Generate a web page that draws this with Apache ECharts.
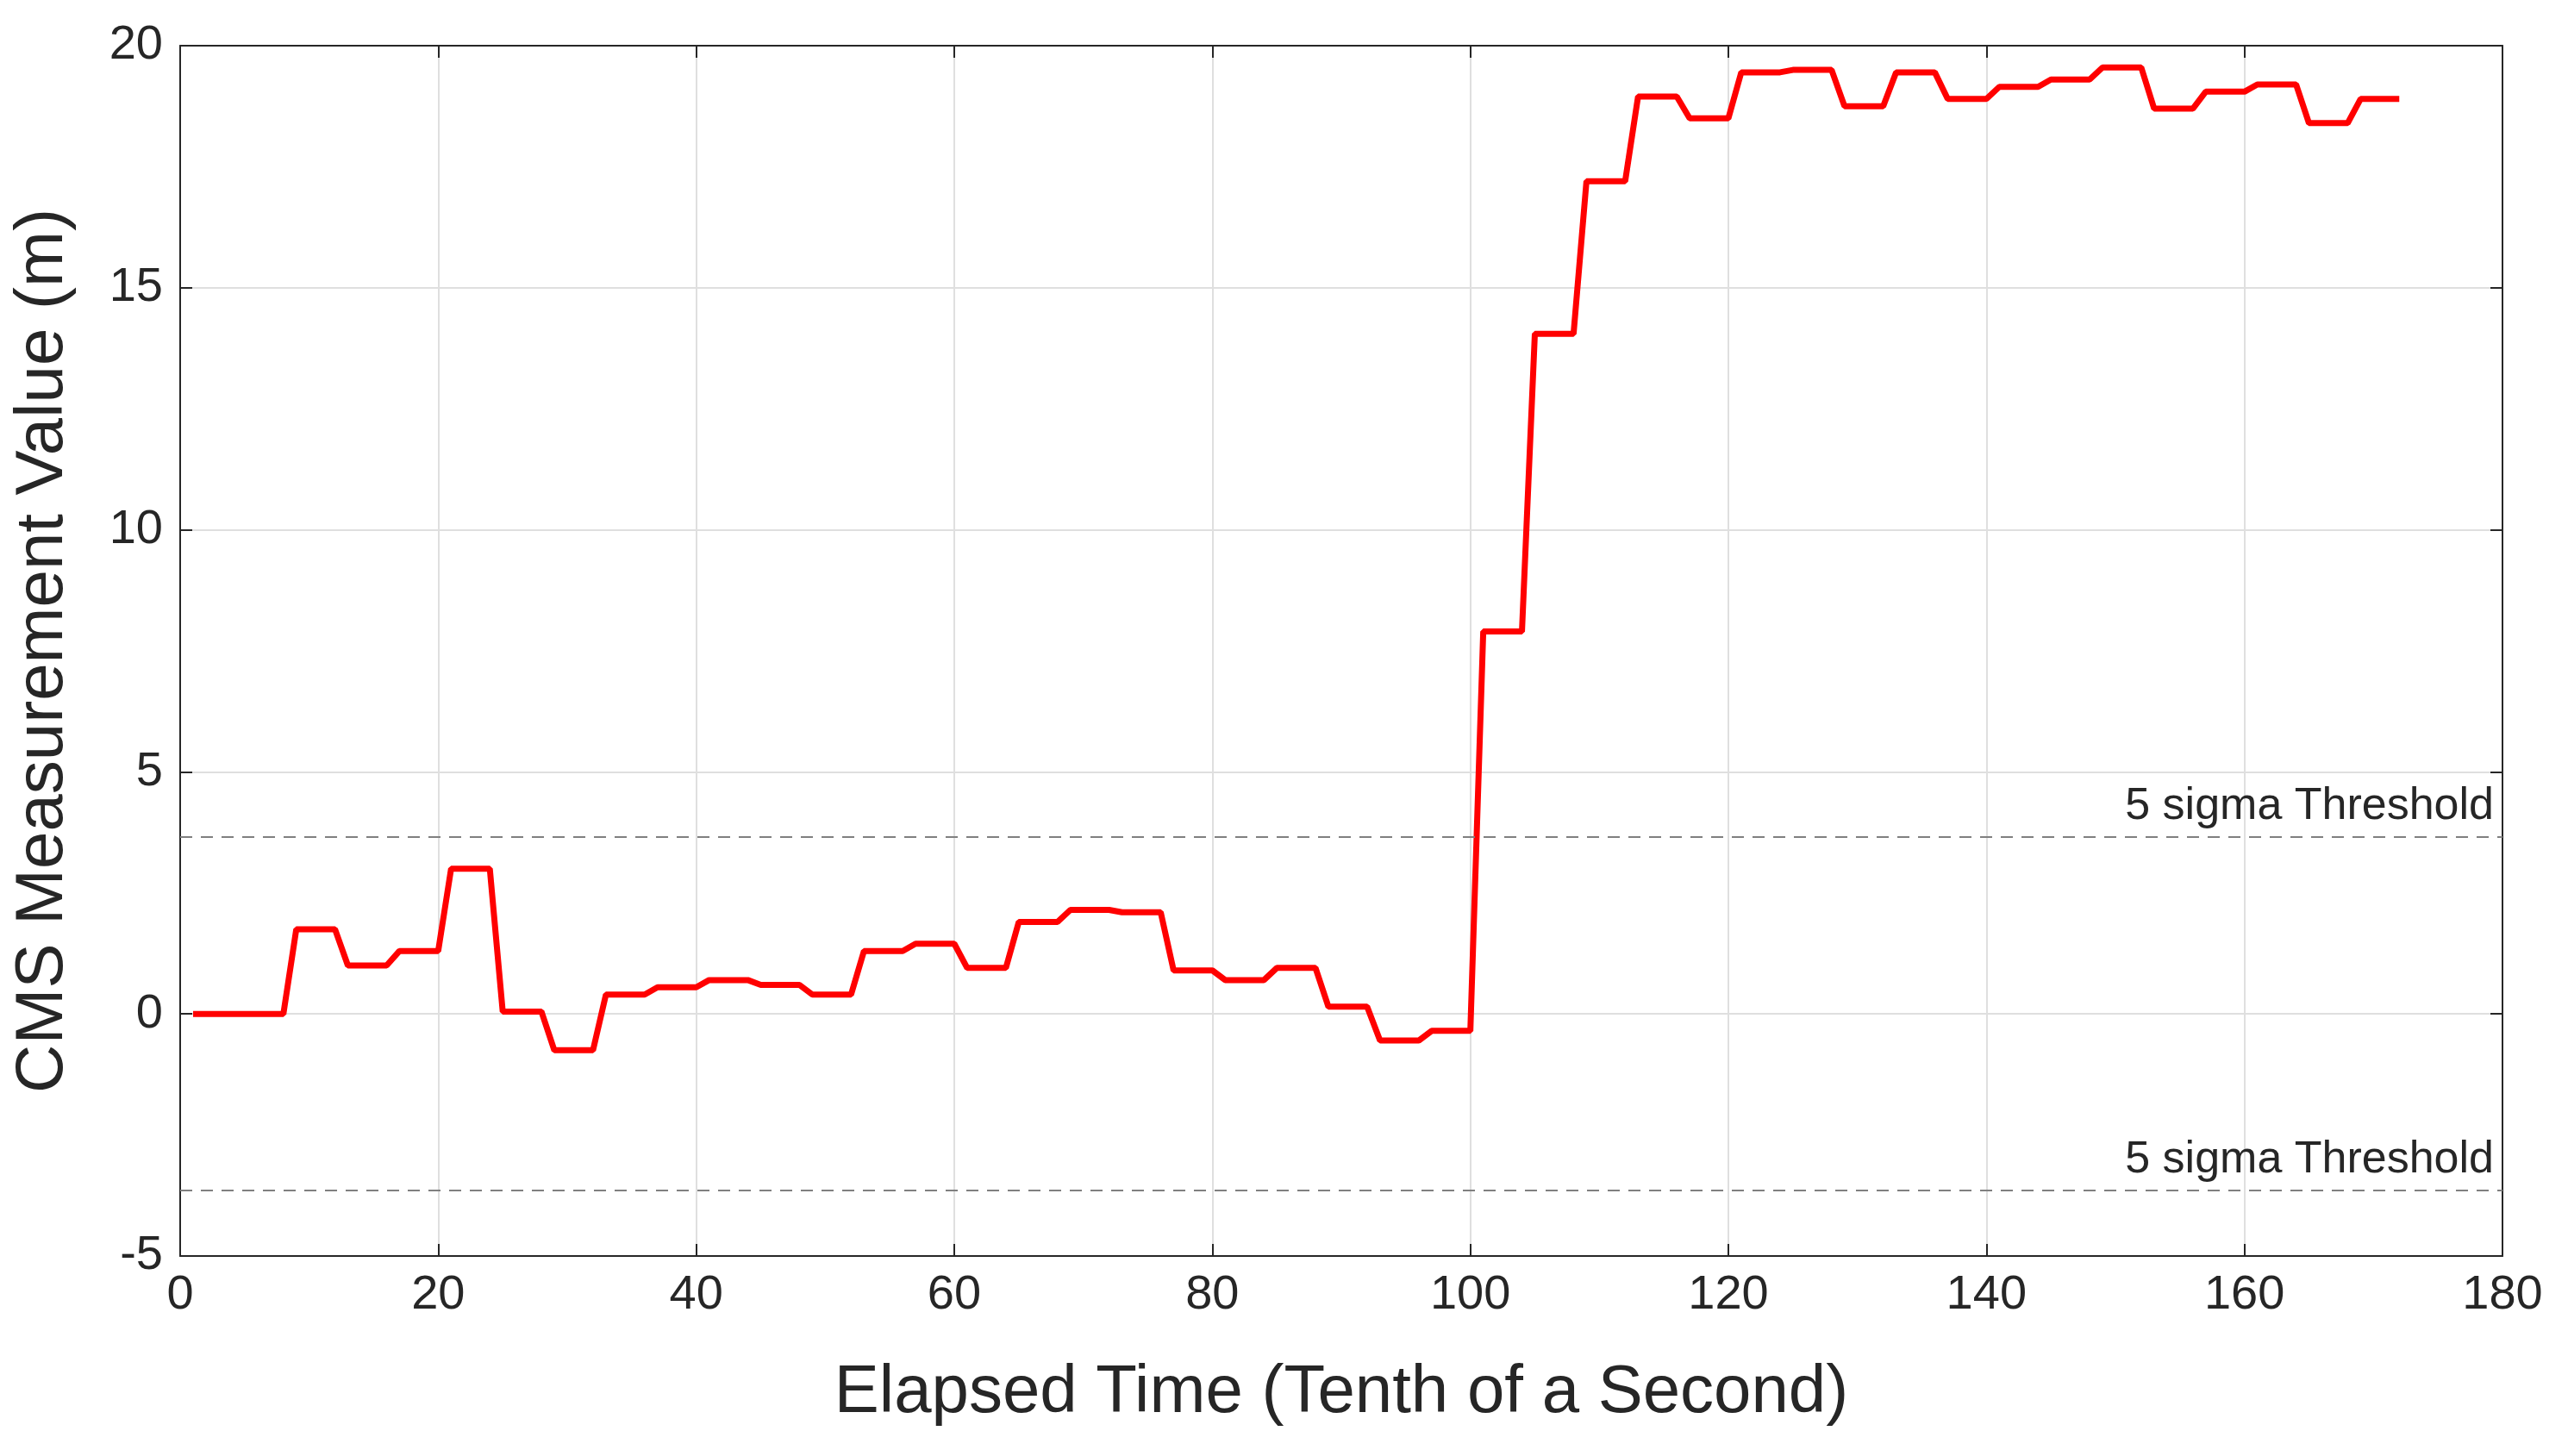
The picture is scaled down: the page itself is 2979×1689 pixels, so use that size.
<!DOCTYPE html>
<html><head><meta charset="utf-8">
<script src="https://cdn.jsdelivr.net/npm/echarts@6/dist/echarts.min.js"></script>
<style>html,body{margin:0;background:#fff}#c{width:2979px;height:1689px}</style>
</head><body><div id="c"></div>
<script>
const stepStarts = [1,9,13,17,21,25,29,33,37,41,45,49,53,57,61,65,69,73,77,81,85,89,93,97,101,105,109,113,117,121,125,129,133,137,141,145,149,153,157,161,165,169];
const stepEnds   = [8,12,16,20,24,28,32,36,40,44,48,52,56,60,64,68,72,76,80,84,88,92,96,100,104,108,112,116,120,124,128,132,136,140,144,148,152,156,160,164,168,172];
const stepValues = [0,1.75,1.0,1.3,3.0,0.05,-0.75,0.4,0.55,0.7,0.6,0.4,1.3,1.45,0.95,1.9,2.15,2.1,0.9,0.7,0.95,0.15,-0.55,-0.35,7.9,14.05,17.2,18.95,18.5,19.45,19.5,18.75,19.45,18.9,19.15,19.3,19.55,18.7,19.05,19.2,18.4,18.9];
const threshold = 3.65;
const xTicks = [0,20,40,60,80,100,120,140,160,180];
const yTicks = [-5,0,5,10,15,20];

const pts = [];
stepStarts.forEach((s,i)=>{ pts.push([s,stepValues[i]]); pts.push([stepEnds[i],stepValues[i]]); });

const font = 'Arial, "Liberation Sans", sans-serif';
const lbl = {fontSize:56,color:'#262626',fontFamily:font};
const mkX = (pos,show)=>({type:'value',position:pos,min:0,max:180,interval:20,
  axisLine:{show:true,onZero:false,lineStyle:{color:'#262626',width:2}},
  axisTick:{show:true,inside:true,length:14,lineStyle:{color:'#262626',width:2}},
  axisLabel:Object.assign({show:show,margin:18},lbl),
  splitLine:{show:show,lineStyle:{color:'#dfdfdf',width:2}},
  name:show?'Elapsed Time (Tenth of a Second)':'',nameLocation:'middle',nameGap:120,
  nameTextStyle:{fontSize:78,color:'#262626',fontFamily:font}});
const mkY = (pos,show)=>({type:'value',position:pos,min:-5,max:20,interval:5,
  axisLine:{show:true,onZero:false,lineStyle:{color:'#262626',width:2}},
  axisTick:{show:true,inside:true,length:14,lineStyle:{color:'#262626',width:2}},
  axisLabel:Object.assign({show:show,margin:20},lbl),
  splitLine:{show:show,lineStyle:{color:'#dfdfdf',width:2}},
  name:show?'CMS Measurement Value (m)':'',nameLocation:'middle',nameGap:120,
  nameTextStyle:{fontSize:78,color:'#262626',fontFamily:font}});

const chart = echarts.init(document.getElementById('c'));
chart.setOption({
  animation:false,
  grid:{left:209,right:76,top:53,bottom:232},
  xAxis:[mkX('bottom',true),mkX('top',false)],
  yAxis:[mkY('left',true),mkY('right',false)],
  series:[{type:'line',data:pts,showSymbol:false,lineStyle:{color:'#ff0000',width:7},
    markLine:{silent:true,symbol:'none',
      lineStyle:{type:[14,10],color:'#808080',width:2},
      label:{position:'insideEndTop',formatter:'5 sigma Threshold',fontSize:52,color:'#262626',fontFamily:font,distance:10},
      data:[{yAxis:threshold},{yAxis:-threshold}]}}]
});
</script></body></html>
